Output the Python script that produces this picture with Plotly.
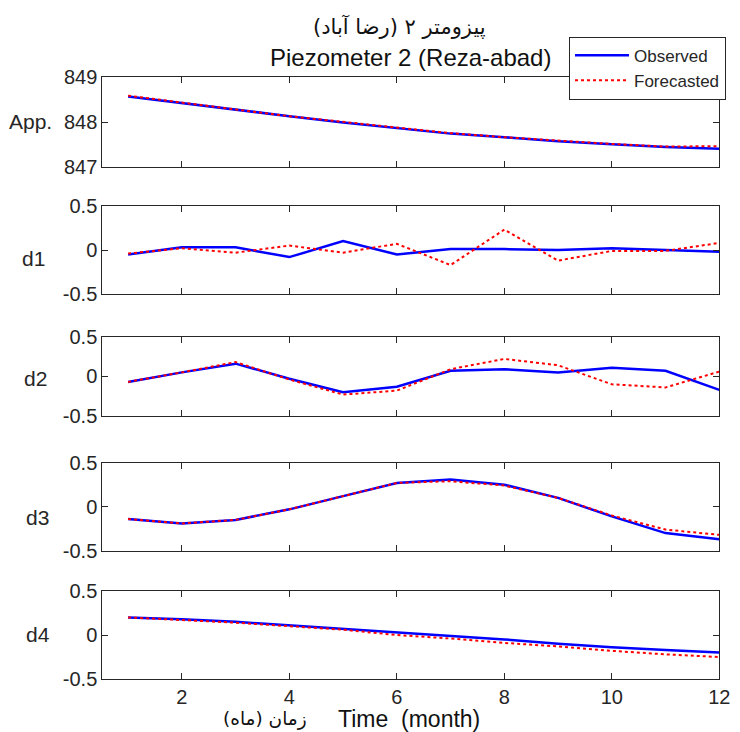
import plotly.graph_objects as go

months = list(range(1, 13))

app_obs = [848.57, 848.42, 848.27, 848.13, 847.99, 847.86, 847.74, 847.66, 847.57, 847.50, 847.44, 847.40]
app_fc = [848.59, 848.43, 848.28, 848.13, 848.00, 847.87, 847.75, 847.66, 847.58, 847.51, 847.45, 847.46]

d1_obs = [-0.05, 0.03, 0.03, -0.08, 0.10, -0.05, 0.01, 0.01, 0.00, 0.02, 0.00, -0.02]
d1_fc = [-0.04, 0.02, -0.03, 0.05, -0.03, 0.07, -0.17, 0.23, -0.12, -0.01, -0.01, 0.08]

d2_obs = [-0.07, 0.05, 0.16, -0.03, -0.20, -0.13, 0.07, 0.09, 0.05, 0.11, 0.07, -0.17]
d2_fc = [-0.07, 0.05, 0.18, -0.04, -0.23, -0.18, 0.09, 0.22, 0.14, -0.10, -0.14, 0.06]

d3_obs = [-0.14, -0.19, -0.15, -0.03, 0.12, 0.27, 0.31, 0.25, 0.10, -0.11, -0.30, -0.37]
d3_fc = [-0.14, -0.19, -0.15, -0.03, 0.12, 0.27, 0.29, 0.24, 0.10, -0.10, -0.26, -0.32]

d4_obs = [0.20, 0.18, 0.15, 0.11, 0.07, 0.03, -0.01, -0.05, -0.10, -0.14, -0.17, -0.20]
d4_fc = [0.20, 0.17, 0.14, 0.10, 0.06, 0.00, -0.04, -0.09, -0.13, -0.18, -0.22, -0.25]

panel_labels = ["App.", "d1", "d2", "d3", "d4"]
series_obs = [app_obs, d1_obs, d2_obs, d3_obs, d4_obs]
series_fc = [app_fc, d1_fc, d2_fc, d3_fc, d4_fc]

x_ticks = [2, 4, 6, 8, 10, 12]
app_ticks = [847, 848, 849]
d_ticks = [-0.5, 0, 0.5]
d_ticktext = ["-0.5", "0", "0.5"]

W, H = 740, 732
FONT = "Liberation Sans, Arial, sans-serif"
AR_FONT = "DejaVu Sans, Noto Sans, sans-serif"
AX = "#262626"

# pixel geometry (top, bottom) of each panel
panels_px = [(77.3, 166.7), (205.7, 294.3), (336.7, 416.0), (462.7, 550.7), (591.0, 679.0)]
x_dom = [102.3 / W, 719.3 / W]

fig = go.Figure()
layout = dict(
    width=W, height=H,
    margin=dict(l=0, r=0, t=0, b=0, pad=0, autoexpand=False),
    paper_bgcolor="white", plot_bgcolor="white",
    font=dict(family=FONT, color=AX, size=19),
    showlegend=True,
    legend=dict(
        x=569 / W, y=1 - 36.7 / H, xanchor="left", yanchor="top",
        bgcolor="white", bordercolor=AX, borderwidth=1,
        font=dict(family=FONT, size=17, color=AX),
        tracegroupgap=0, itemwidth=54,
    ),
)

annotations = []
for i in range(5):
    n = "" if i == 0 else str(i + 1)
    top, bot = panels_px[i]
    ydom = [1 - bot / H, 1 - top / H]
    xa = dict(
        domain=x_dom, range=[0.52, 12], tickvals=x_ticks,
        showticklabels=(i == 4), ticks="inside", ticklen=6, tickcolor=AX,
        showline=True, linecolor=AX, linewidth=1, mirror="ticks",
        showgrid=False, zeroline=False, anchor="y" + n, automargin=False,
        tickfont=dict(family=FONT, size=20, color=AX),
    )
    if i > 0:
        xa["matches"] = "x"
    if i == 0:
        ya = dict(range=[847, 849], tickvals=app_ticks, ticktext=[str(v) for v in app_ticks])
    else:
        ya = dict(range=[-0.5, 0.5], tickvals=d_ticks, ticktext=d_ticktext)
    ya.update(
        domain=ydom, ticks="inside", ticklen=6, tickcolor=AX,
        showline=True, linecolor=AX, linewidth=1, mirror="ticks",
        showgrid=False, zeroline=False, anchor="x" + n, automargin=False,
        tickfont=dict(family=FONT, size=20, color=AX),
    )
    layout["xaxis" + n] = xa
    layout["yaxis" + n] = ya

    fig.add_trace(go.Scatter(
        x=months, y=series_obs[i], mode="lines", name="Observed",
        line=dict(color="#0000FF", width=2.5), showlegend=(i == 0),
        xaxis="x" + n, yaxis="y" + n, legendgroup="obs",
    ))
    fig.add_trace(go.Scatter(
        x=months, y=series_fc[i], mode="lines", name="Forecasted",
        line=dict(color="#FF0000", width=2, dash="dot"), showlegend=(i == 0),
        xaxis="x" + n, yaxis="y" + n, legendgroup="fc",
    ))

# y labels
label_pos = [(54, 122, "right"), (33, 258, "center"), (35, 378, "center"), (37, 517, "center"), (38, 634, "center")]
for (px, py, anc), txt in zip(label_pos, panel_labels):
    annotations.append(dict(
        x=px / W, y=1 - py / H, xref="paper", yref="paper", text=txt,
        showarrow=False, xanchor=anc, yanchor="middle",
        font=dict(family=FONT, size=21, color=AX),
    ))

# titles
annotations.append(dict(
    x=399 / W, y=1 - 26 / H, xref="paper", yref="paper",
    text="\u200fپیزومتر ۲ (رضا آباد)\u200f", showarrow=False,
    xanchor="center", yanchor="middle",
    font=dict(family=AR_FONT, size=21, color="#111"),
))
annotations.append(dict(
    x=410 / W, y=1 - 57 / H, xref="paper", yref="paper",
    text="Piezometer 2 (Reza-abad)", showarrow=False,
    xanchor="center", yanchor="middle",
    font=dict(family=FONT, size=24, color="#111"),
))
# x label
annotations.append(dict(
    x=264.5 / W, y=1 - 719 / H, xref="paper", yref="paper",
    text="\u200fزمان (ماه)\u200f", showarrow=False,
    xanchor="center", yanchor="middle",
    font=dict(family=AR_FONT, size=18.5, color="#111"),
))
annotations.append(dict(
    x=409 / W, y=1 - 719 / H, xref="paper", yref="paper",
    text="Time  (month)", showarrow=False,
    xanchor="center", yanchor="middle",
    font=dict(family=FONT, size=23, color="#111"),
))

layout["annotations"] = annotations
fig.update_layout(**layout)
fig.write_html(
    "out.html",
    config={"displayModeBar": False},
    post_script="document.body.style.margin='0px';document.body.style.overflow='hidden';",
)
